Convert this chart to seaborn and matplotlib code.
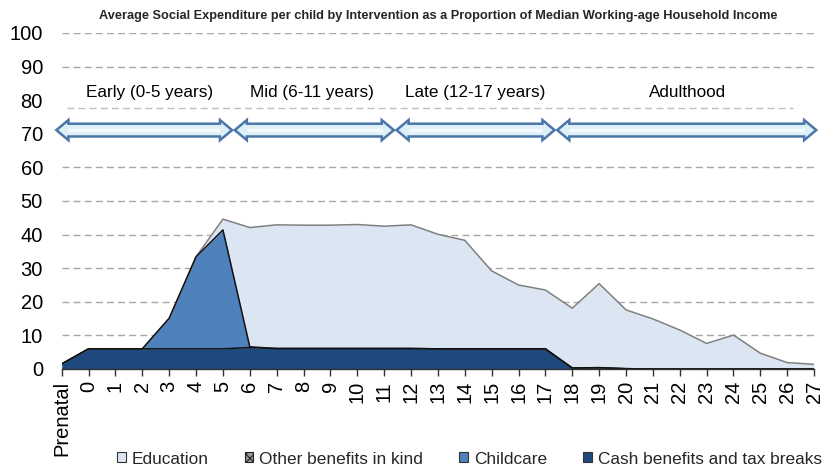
import numpy as np
import pandas as pd
import seaborn as sns
import matplotlib.pyplot as plt
import matplotlib.patches as mpatches
from matplotlib import font_manager

# Data
AGES = ["Prenatal"] + [str(a) for a in range(28)]

CASH = [1.5, 6.0, 6.0, 6.0, 6.0, 6.0, 6.0, 6.4, 6.1, 6.1, 6.1, 6.1, 6.1, 6.1,
        6.0, 6.0, 6.0, 6.0, 6.0, 0.3, 0.4, 0.1, 0, 0, 0, 0, 0, 0, 0]
CHILDCARE = [0, 0, 0, 0, 9.1, 27.4, 35.4, 0.2, 0, 0, 0, 0, 0, 0,
             0, 0, 0, 0, 0, 0, 0, 0, 0, 0, 0, 0, 0, 0, 0]
OTHER = [0] * 29
EDUCATION = [0, 0, 0, 0, 0, 0, 3.2, 35.5, 36.8, 36.7, 36.7, 36.9, 36.4, 36.8,
             34.1, 32.3, 23.2, 19.0, 17.5, 17.8, 25.0, 17.5, 14.9, 11.6, 7.6,
             10.1, 4.7, 1.9, 1.4]

STAGES = ["Early (0-5 years)", "Mid (6-11 years)", "Late (12-17 years)", "Adulthood"]
STAGE_SPANS = [(-0.2, 6.34), (6.44, 12.36), (12.46, 18.34), (18.44, 28.08)]
STAGE_LABEL_X = [3.26, 9.32, 15.38, 23.3]

SERIES = ["Education", "Other benefits in kind", "Childcare", "Cash benefits and tax breaks"]
COLORS = {"Education": "#DCE6F2", "Other benefits in kind": "#FFFFFF",
          "Childcare": "#4F81BD", "Cash benefits and tax breaks": "#1F497D"}

sns.set_theme(style="white")
plt.rcParams["font.family"] = ["Liberation Sans", "DejaVu Sans"]
plt.rcParams["hatch.linewidth"] = 0.8

names = {f.name for f in font_manager.fontManager.ttflist}
if "Liberation Sans Narrow" in names:
    title_font = dict(family="Liberation Sans Narrow", size=10.2)
else:
    title_font = dict(family="Liberation Sans", size=9.2)

x = np.arange(len(AGES))
cash = np.array(CASH, dtype=float)
child = np.array(CHILDCARE, dtype=float)
other = np.array(OTHER, dtype=float)
edu = np.array(EDUCATION, dtype=float)

top_cash = cash
top_child = top_cash + child
top_other = top_child + other
top_edu = top_other + edu

fig = plt.figure(figsize=(8.25, 4.7), dpi=100)
ax = fig.add_axes([0.0748, 0.2149, 0.912, 0.7149])

# stacked areas
ax.fill_between(x, top_other, top_edu, color=COLORS["Education"], lw=0, zorder=2)
ax.fill_between(x, top_child, top_other, facecolor="white", hatch="....",
                edgecolor="#404040", lw=0, zorder=2)
ax.fill_between(x, top_cash, top_child, color=COLORS["Childcare"], lw=0, zorder=2)
ax.fill_between(x, 0, top_cash, color=COLORS["Cash benefits and tax breaks"], lw=0, zorder=2)

lines = pd.DataFrame({"x": x, "edu": top_edu, "child": top_child, "cash": top_cash})
sns.lineplot(data=lines, x="x", y="edu", ax=ax, color="#7F7F7F", lw=1.1, zorder=3)
sns.lineplot(data=lines, x="x", y="child", ax=ax, color="#111111", lw=1.1, zorder=4)
sns.lineplot(data=lines, x="x", y="cash", ax=ax, color="#111111", lw=1.1, zorder=4)

ax.set_xlim(0, len(AGES) - 1)
ax.set_ylim(0, 100)
ax.set_yticks(np.arange(0, 101, 10))
ax.set_xticks(x)
ax.set_xticklabels(AGES, rotation=90)
ax.set_xlabel("")
ax.set_ylabel("")
ax.tick_params(axis="y", length=0, pad=13.5, labelsize=14.5, labelcolor="black")
ax.tick_params(axis="x", length=5, width=1, color="#333333", direction="out",
               pad=3.5, labelsize=14.5, labelcolor="black", bottom=True)

for s in ["left", "right", "top"]:
    ax.spines[s].set_visible(False)
ax.spines["bottom"].set_color("#333333")
ax.spines["bottom"].set_linewidth(1)
ax.spines["bottom"].set_zorder(5)

for v in range(10, 101, 10):
    ax.axhline(v, color="#A6A6A6", lw=1, ls=(0, (5, 3)), zorder=1)

# label band covering the grid behind the life-stage arrows
ax.add_patch(mpatches.Rectangle((-0.3, 66), 28.5, 22, facecolor="white",
                                edgecolor="none", zorder=1.5, clip_on=False))
ax.plot([0.2, 27.2], [77.7, 77.7], color="#BFBFBF", lw=1, ls=(0, (5, 3)),
        zorder=1.6, clip_on=False)


def double_arrow(x0, x1, yc, head_h=3.0, shaft_h=1.9, head_l=0.45):
    pts = [(x0, yc), (x0 + head_l, yc + head_h), (x0 + head_l, yc + shaft_h),
           (x1 - head_l, yc + shaft_h), (x1 - head_l, yc + head_h), (x1, yc),
           (x1 - head_l, yc - head_h), (x1 - head_l, yc - shaft_h),
           (x0 + head_l, yc - shaft_h), (x0 + head_l, yc - head_h)]
    return mpatches.Polygon(pts, closed=True, facecolor="#DDF0F8",
                            edgecolor="#4A76A8", lw=1.8, zorder=6, clip_on=False)


for (x0, x1), lab, lx in zip(STAGE_SPANS, STAGES, STAGE_LABEL_X):
    ax.add_patch(double_arrow(x0, x1, 71.1))
    ax.plot([x0 + 0.45, x1 - 0.45], [71.1, 71.1], color="white", lw=2.5,
            alpha=0.7, zorder=6.5, clip_on=False, solid_capstyle="butt")
    ax.text(lx, 82.3, lab, ha="center", va="center", fontsize=12.3,
            color="black", zorder=7)

fig.text(0.531, 0.966, "Average Social Expenditure per child by Intervention as a "
         "Proportion of Median Working-age Household Income",
         ha="center", va="center", fontweight="bold", **title_font)

handles = [
    mpatches.Patch(facecolor=COLORS["Education"], edgecolor="#333333", lw=0.8),
    mpatches.Patch(facecolor="#9A9A9A", edgecolor="#222222", hatch="xxxx", lw=0.8),
    mpatches.Patch(facecolor=COLORS["Childcare"], edgecolor="#333333", lw=0.8),
    mpatches.Patch(facecolor=COLORS["Cash benefits and tax breaks"], edgecolor="#333333", lw=0.8),
]
fig.legend(handles, SERIES, loc="center left", bbox_to_anchor=(117 / 825, 0.0234),
           ncol=4, frameon=False, fontsize=12.4, handlelength=0.5, handleheight=0.5,
           handletextpad=0.35, columnspacing=2.1, borderpad=0, borderaxespad=0)

fig.savefig("out.png", dpi=100)
